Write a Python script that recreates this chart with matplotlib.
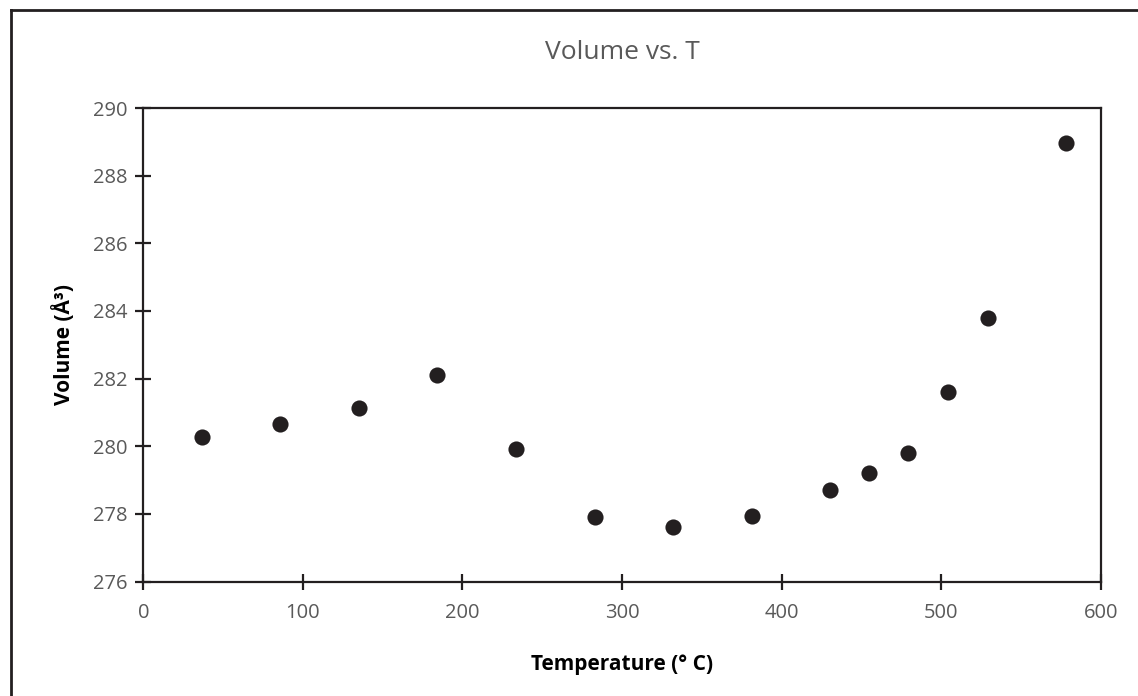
import matplotlib
matplotlib.use("Agg")
import matplotlib.pyplot as plt
from matplotlib.lines import Line2D

# data
temperature = [36.6, 85.8, 135.1, 184.3, 233.6, 282.9, 332.1, 381.2,
               430.4, 455.1, 479.5, 504.2, 529.1, 578.2]
volume = [280.27, 280.65, 281.13, 282.12, 279.93, 277.90, 277.62, 277.95,
          278.70, 279.20, 279.80, 281.59, 283.78, 288.98]
x_ticks = [0, 100, 200, 300, 400, 500, 600]
y_ticks = [276, 278, 280, 282, 284, 286, 288, 290]

plt.rcParams['font.family'] = ['Open Sans', 'DejaVu Sans']

fig = plt.figure(figsize=(11.38, 6.96), dpi=100)
ax = fig.add_axes([0.1259, 0.1645, 0.8413, 0.6803])

ax.scatter(temperature, volume, s=135, color='#231f20', zorder=3, linewidths=0)

ax.set_xlim(0, 600)
ax.set_ylim(276, 290)
ax.set_xticks(x_ticks)
ax.set_yticks(y_ticks)
ax.tick_params(direction='inout', length=11, width=1.6, colors='#231f20',
               labelcolor='#595959', labelsize=14.5)
ax.tick_params(axis='x', pad=10)
ax.tick_params(axis='y', pad=6)
for sp in ax.spines.values():
    sp.set_linewidth(1.6)
    sp.set_color('#231f20')

ax.set_xlabel("Temperature (° C)", fontsize=15, fontweight='bold', labelpad=22)
ax.set_ylabel("Volume (Å³)", fontsize=15, fontweight='bold', labelpad=13)
ax.set_title("Volume vs. T", fontsize=19, color='#595959', pad=35)

# outer chart border (only top and left edges are visible in the crop)
fig.add_artist(Line2D([11 / 1138, 11 / 1138], [0, 1 - 10 / 696],
                      transform=fig.transFigure, color='#231f20', lw=2))
fig.add_artist(Line2D([11 / 1138, 1], [1 - 10 / 696, 1 - 10 / 696],
                      transform=fig.transFigure, color='#231f20', lw=2))

fig.savefig("out.png", dpi=100)
